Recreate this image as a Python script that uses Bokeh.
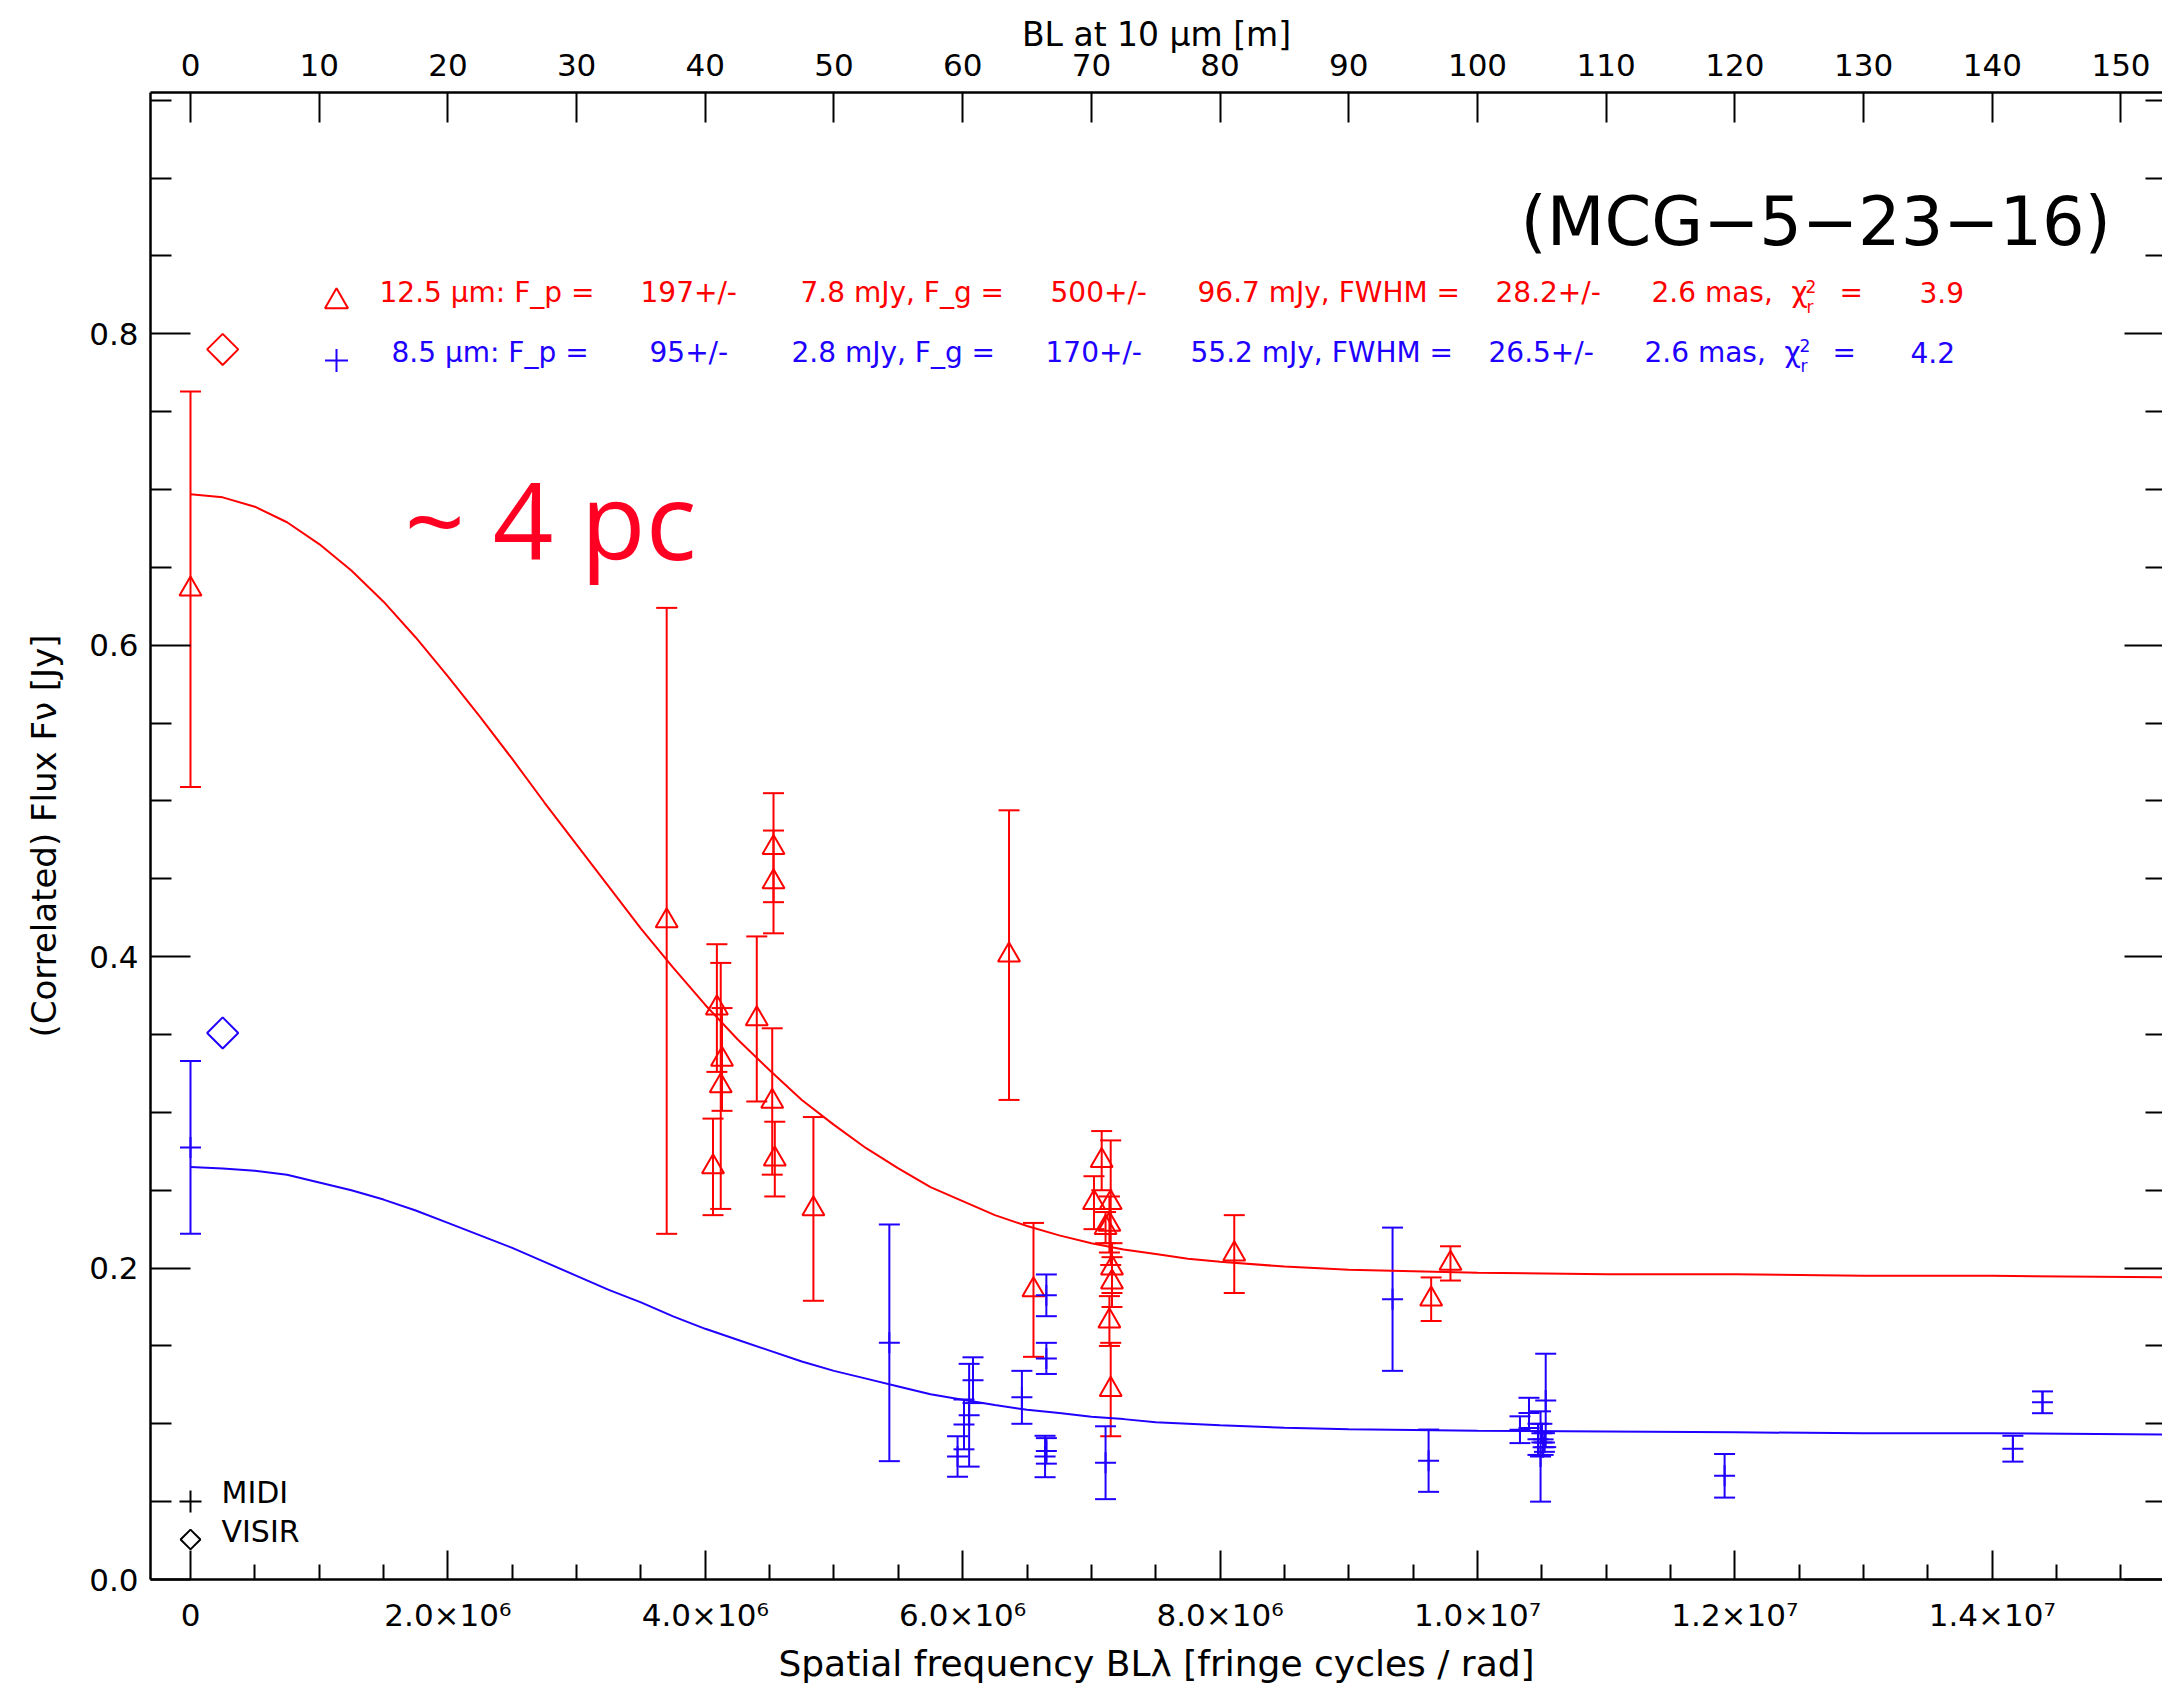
import numpy as np
from bokeh.plotting import figure
from bokeh.models import (Range1d, LinearAxis, FixedTicker, Whisker, TeeHead,
                          ColumnDataSource, Label, PrintfTickFormatter)
from bokeh.embed import file_html
from bokeh.resources import INLINE

# ---------------- data (spatial frequency in units of 1e6 cycles/rad, flux in Jy) -------------
red_u = [0.00, 3.70, 4.06, 4.09, 4.12, 4.13, 4.40, 4.52, 4.53, 4.53, 4.54, 4.84, 6.36, 6.55,
         7.02, 7.08, 7.15, 7.14, 7.11, 7.16, 7.16, 7.14, 7.15, 8.11, 9.64, 9.79]
red_f = [0.636, 0.423, 0.265, 0.367, 0.317, 0.334, 0.360, 0.307, 0.470, 0.448, 0.270, 0.238,
         0.401, 0.186, 0.242, 0.269, 0.242, 0.228, 0.226, 0.200, 0.191, 0.166, 0.122, 0.209,
         0.180, 0.203]
red_e = [0.127, 0.201, 0.031, 0.041, 0.079, 0.033, 0.053, 0.047, 0.035, 0.033, 0.024, 0.059,
         0.093, 0.043, 0.017, 0.019, 0.040, 0.018, 0.010, 0.016, 0.016, 0.016, 0.030, 0.025,
         0.014, 0.011]

blue_u = [0.00, 5.43, 5.96, 6.01, 6.05, 6.08, 6.46, 6.65, 6.65, 6.64, 6.65, 7.11, 9.34, 9.62,
          10.33, 10.40, 10.53, 10.49, 10.50, 10.52, 10.47, 10.51, 11.92, 14.16, 14.39]
blue_f = [0.2775, 0.152, 0.079, 0.0996, 0.1055, 0.128, 0.117, 0.1825, 0.142, 0.079, 0.0826,
          0.075, 0.180, 0.0763, 0.0962, 0.107, 0.115, 0.079, 0.094, 0.088, 0.090, 0.085,
          0.0666, 0.084, 0.1138]
blue_e = [0.0555, 0.076, 0.013, 0.016, 0.033, 0.0147, 0.017, 0.0134, 0.010, 0.0133, 0.0082,
          0.0234, 0.046, 0.020, 0.0086, 0.0097, 0.030, 0.029, 0.006, 0.006, 0.010, 0.005,
          0.014, 0.0083, 0.007]

visir_red_u = [0.25]
visir_red_f = [0.790]
visir_blue_u = [0.25]
visir_blue_f = [0.351]

# fitted model curves
curve_u = [0, 0.25, 0.5, 0.75, 1, 1.25, 1.5, 1.75, 2, 2.25, 2.5, 2.75, 3, 3.25, 3.5, 3.75,
           4, 4.25, 4.5, 4.75, 5, 5.25, 5.5, 5.75, 6, 6.25, 6.5, 6.75, 7, 7.25, 7.5, 7.75,
           8, 8.5, 9, 9.5, 10, 11, 12, 13, 14, 15.4]
curve_red = [0.697, 0.695, 0.689, 0.679, 0.665, 0.648, 0.628, 0.605, 0.580, 0.554, 0.527,
             0.499, 0.472, 0.445, 0.418, 0.393, 0.369, 0.347, 0.327, 0.308, 0.292, 0.277,
             0.264, 0.252, 0.243, 0.234, 0.227, 0.221, 0.216, 0.212, 0.209, 0.206, 0.204,
             0.201, 0.199, 0.198, 0.197, 0.196, 0.196, 0.195, 0.195, 0.194]
curve_blue = [0.265, 0.264, 0.2625, 0.260, 0.255, 0.250, 0.244, 0.237, 0.229, 0.221, 0.213,
              0.204, 0.195, 0.186, 0.178, 0.169, 0.161, 0.154, 0.147, 0.140, 0.134, 0.129,
              0.124, 0.119, 0.1155, 0.112, 0.109, 0.107, 0.1045, 0.103, 0.101, 0.100, 0.099,
              0.0975, 0.0965, 0.096, 0.0955, 0.095, 0.0945, 0.094, 0.094, 0.093]

x_major = [0, 2, 4, 6, 8, 10, 12, 14]
x_labels = ["0", "2.0×10⁶", "4.0×10⁶", "6.0×10⁶", "8.0×10⁶", "1.0×10⁷", "1.2×10⁷", "1.4×10⁷"]
y_major = [0.0, 0.2, 0.4, 0.6, 0.8]
top_major = list(range(0, 151, 10))

# ---------------- layout ----------------
W, H = 2162, 1686
L, T, B = 150, 92, 107
XS, XE = -0.3108, 15.3225
YS, YE = 0.0, 0.955

RED = "#ff0000"
BLUE = "#2000ff"
FONT = "DejaVu Sans"

p = figure(width=W, height=H, output_backend="svg", toolbar_location=None,
           x_range=Range1d(XS, XE), y_range=Range1d(YS, YE),
           x_axis_location=None, y_axis_location=None,
           min_border_left=L, min_border_right=0, min_border_top=T, min_border_bottom=B)
p.outline_line_color = None
p.xgrid.visible = False
p.ygrid.visible = False
p.background_fill_color = "white"
p.border_fill_color = "white"
p.extra_x_ranges = {"bl": Range1d(XS * 10, XE * 10)}


def style(ax, tin, minin, size="31px"):
    ax.axis_line_color = "black"
    ax.axis_line_width = 2.5
    ax.major_tick_line_color = "black"
    ax.major_tick_line_width = 2
    ax.minor_tick_line_color = "black"
    ax.minor_tick_line_width = 2
    ax.major_tick_in = tin
    ax.major_tick_out = 0
    ax.minor_tick_in = minin
    ax.minor_tick_out = 0
    ax.major_label_text_font = FONT
    ax.major_label_text_font_size = size
    ax.major_label_text_color = "black"
    ax.axis_label_text_font = FONT
    ax.axis_label_text_font_style = "normal"
    ax.axis_label_text_color = "black"


x_minor = [v / 2 for v in range(0, 31) if v % 4 != 0]
y_minor = [round(v * 0.05, 2) for v in range(0, 20) if v % 4 != 0]

xb = LinearAxis(ticker=FixedTicker(ticks=x_major, minor_ticks=x_minor))
xb.major_label_overrides = {k: s for k, s in zip(x_major, x_labels)}
style(xb, 29, 15)
xb.major_label_standoff = 17
xb.axis_label = "Spatial frequency BLλ [fringe cycles / rad]"
xb.axis_label_text_font_size = "36px"
xb.axis_label_standoff = 7
p.add_layout(xb, "below")

xt = LinearAxis(x_range_name="bl", ticker=FixedTicker(ticks=top_major, minor_ticks=[]))
style(xt, 30, 0)
xt.minor_tick_line_color = None
xt.major_label_standoff = 17
xt.axis_label = "BL at 10 μm [m]"
xt.axis_label_text_font_size = "33px"
xt.axis_label_standoff = -3
p.add_layout(xt, "above")

yl = LinearAxis(ticker=FixedTicker(ticks=y_major, minor_ticks=y_minor),
                formatter=PrintfTickFormatter(format="%.1f"))
style(yl, 40, 21)
yl.major_label_standoff = 12
yl.axis_label = "(Correlated) Flux Fν [Jy]"
yl.axis_label_text_font_size = "34px"
yl.axis_label_standoff = 22
p.add_layout(yl, "left")

yr = LinearAxis(ticker=FixedTicker(ticks=y_major, minor_ticks=y_minor))
style(yr, 38, 17)
yr.major_label_overrides = {k: "" for k in y_major}
yr.axis_line_color = None
yr.major_label_standoff = 0
p.add_layout(yr, "right")

# ---------------- fit curves ----------------
p.line(curve_u, curve_red, line_color=RED, line_width=2)
p.line(curve_u, curve_blue, line_color=BLUE, line_width=2)

# ---------------- error bars ----------------
def add_errors(u, f, e, color):
    f = np.array(f)
    e = np.array(e)
    src = ColumnDataSource(dict(u=u, lo=f - e, hi=f + e))
    w = Whisker(source=src, base="u", lower="lo", upper="hi", dimension="height",
                line_color=color, line_width=2,
                upper_head=TeeHead(size=21, line_color=color, line_width=2),
                lower_head=TeeHead(size=21, line_color=color, line_width=2))
    p.add_layout(w)


add_errors(red_u, red_f, red_e, RED)
add_errors(blue_u, blue_f, blue_e, BLUE)

p.scatter(red_u, red_f, marker="triangle", size=22, fill_color=None,
          line_color=RED, line_width=2)
p.scatter(blue_u, blue_f, marker="cross", size=21, line_color=BLUE, line_width=2)
p.scatter(visir_red_u, visir_red_f, marker="square", angle=np.pi / 4, size=22,
          fill_color=None, line_color=RED, line_width=2)
p.scatter(visir_blue_u, visir_blue_f, marker="square", angle=np.pi / 4, size=22,
          fill_color=None, line_color=BLUE, line_width=2)

# ---------------- annotation helpers (pixel -> data for placement) ----------------
FW = W - L
FH = H - T - B


def sx(px):
    return XS + (px - L) / FW * (XE - XS)


def sy(py):
    return YE - (py - T) / FH * (YE - YS)


def text(txt, px, py, size, color="black", font=FONT, align="left", k=0.35):
    # py is the wanted baseline; shift up to compensate the text box placement
    p.add_layout(Label(x=sx(px), y=sy(py - k * size), text=txt, text_font=font,
                       text_font_size=f"{size}px", text_color=color, text_align=align,
                       text_baseline="alphabetic"))


# legend symbols (top)
p.scatter([sx(336)], [sy(301)], marker="triangle", size=23, fill_color=None,
          line_color=RED, line_width=2)
p.scatter([sx(336)], [sy(360)], marker="cross", size=23, line_color=BLUE, line_width=2)

red_parts = [("12.5 μm: F_p =", 379), ("197+/-", 640), ("7.8 mJy, F_g =", 800),
             ("500+/-", 1050), ("96.7 mJy, FWHM =", 1197), ("28.2+/-", 1495),
             ("2.6 mas,", 1651), ("χ", 1791), ("=", 1839), ("3.9", 1919)]
blue_parts = [("8.5 μm: F_p =", 391), ("95+/-", 649), ("2.8 mJy, F_g =", 791),
              ("170+/-", 1045), ("55.2 mJy, FWHM =", 1190), ("26.5+/-", 1488),
              ("2.6 mas,", 1644), ("χ", 1784), ("=", 1832), ("4.2", 1910)]
for s, x in red_parts:
    text(s, x, 302, 28, RED)
for s, x in blue_parts:
    text(s, x, 362, 28, BLUE)
text("2", 1805, 292, 17, RED)
text("r", 1806, 312, 17, RED)
text("2", 1799, 351, 17, BLUE)
text("r", 1800, 371, 17, BLUE)

# object name and size annotation
text("(MCG−5−23−16)", 1520, 245, 67)
text("~ 4 pc", 404, 556, 106, color="#ff0022", font="Open Sans")

# instrument legend (bottom left)
p.scatter([sx(190)], [sy(1501)], marker="cross", size=22, line_color="black", line_width=2)
p.scatter([sx(190)], [sy(1539)], marker="square", angle=np.pi / 4, size=14,
          fill_color=None, line_color="black", line_width=2)
text("MIDI", 221, 1502, 30)
text("VISIR", 221, 1541, 30)

open("out.html", "w").write(file_html(p, INLINE))
